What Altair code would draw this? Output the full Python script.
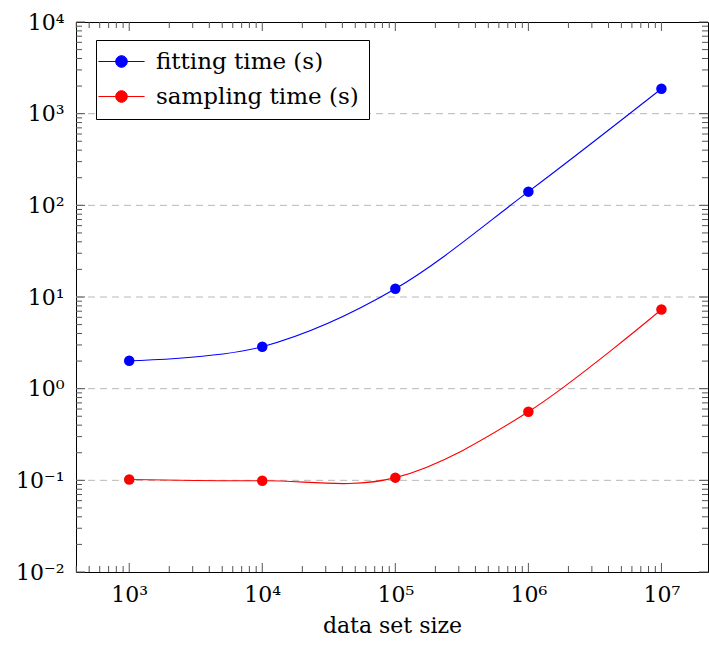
import altair as alt
import pandas as pd

# ---- data ----
sizes = [1e3, 1e4, 1e5, 1e6, 1e7]
fitting = [2.02, 2.87, 12.3, 141, 1870]
sampling = [0.102, 0.099, 0.107, 0.56, 7.3]
series_names = ["fitting time (s)", "sampling time (s)"]
series_colors = ["#0000ff", "#ff0000"]

x_decades = [1e3, 1e4, 1e5, 1e6, 1e7]
y_decades = [1e-2, 1e-1, 1e0, 1e1, 1e2, 1e3, 1e4]
grid_decades = [1e-1, 1e0, 1e1, 1e2, 1e3]

W, H = 632, 550
XMIN, XMAX = 10 ** 2.6, 10 ** 7.35
FONT = "DejaVu Serif"

x_minor = [m * 10 ** e for e in range(2, 7) for m in range(2, 10)
           if XMIN <= m * 10 ** e <= 1e7]
y_minor = [m * 10.0 ** e for e in range(-2, 4) for m in range(2, 10)]

rows = []
for s, f, p in zip(sizes, fitting, sampling):
    rows.append({"size": s, "time": f, "series": series_names[0]})
    rows.append({"size": s, "time": p, "series": series_names[1]})
df = pd.DataFrame(rows)

xscale = alt.Scale(type="log", domain=[XMIN, XMAX], nice=False)
yscale = alt.Scale(type="log", domain=[1e-2, 1e4], nice=False)
cscale = alt.Scale(domain=series_names, range=series_colors)

sup = "['⁰','¹','²','³','⁴','⁵','⁶','⁷','⁸','⁹'][round(abs(log(datum.value)/LN10))]"
label_expr = "'10' + (datum.value < 1 ? '⁻' : '') + " + sup

x_axis = alt.Axis(values=x_decades, labelExpr=label_expr, ticks=False, domain=False,
                  grid=False, labelFont=FONT, labelFontSize=22, labelColor="black",
                  labelPadding=12, title="data set size", titleFont=FONT,
                  titleFontSize=22, titleFontWeight="normal", titleColor="black",
                  titlePadding=10)
y_axis = alt.Axis(values=y_decades, labelExpr=label_expr, ticks=False, domain=False,
                  grid=False, labelFont=FONT, labelFontSize=22, labelColor="black",
                  labelPadding=12, title=None)

base = alt.Chart(df)

grid = alt.Chart(pd.DataFrame({"v": grid_decades})).mark_rule(
    color="#b8b8b8", strokeDash=[7, 5], strokeWidth=1
).encode(y=alt.Y("v:Q", scale=yscale, axis=y_axis), x=alt.value(0), x2=alt.value(W))

def xticks(vals, length):
    d = pd.DataFrame({"v": vals})
    bottom = alt.Chart(d).mark_rule(color="#555", strokeWidth=1).encode(
        x=alt.X("v:Q", scale=xscale, axis=x_axis), y=alt.value(H), y2=alt.value(H - length))
    top = alt.Chart(d).mark_rule(color="#555", strokeWidth=1).encode(
        x=alt.X("v:Q", scale=xscale), y=alt.value(0), y2=alt.value(length))
    return [bottom, top]

def yticks(vals, length):
    d = pd.DataFrame({"v": vals})
    left = alt.Chart(d).mark_rule(color="#555", strokeWidth=1).encode(
        y=alt.Y("v:Q", scale=yscale), x=alt.value(0), x2=alt.value(length))
    right = alt.Chart(d).mark_rule(color="#555", strokeWidth=1).encode(
        y=alt.Y("v:Q", scale=yscale), x=alt.value(W), x2=alt.value(W - length))
    return [left, right]

ticks = xticks(x_decades, 9) + xticks(x_minor, 6) + yticks(y_decades, 9) + yticks(y_minor, 6)

lines = base.mark_line(interpolate="cardinal", strokeWidth=1.1).encode(
    x=alt.X("size:Q", scale=xscale),
    y=alt.Y("time:Q", scale=yscale),
    color=alt.Color("series:N", scale=cscale),
)

legend = alt.Legend(
    title=None, orient="none", legendX=20, legendY=18,
    strokeColor="black", fillColor="white", padding=10, cornerRadius=0,
    symbolType="M-3.85,0L3.85,0M0.97,0A0.97,0.97,0,1,1,-0.97,0A0.97,0.97,0,1,1,0.97,0Z",
    symbolSize=144, symbolStrokeWidth=1, symbolOffset=4,
    labelFont=FONT, labelFontSize=23,
    labelColor="black", labelOffset=23, rowPadding=11, labelLimit=400,
)

points = base.mark_point(filled=True, size=110, opacity=1).encode(
    x=alt.X("size:Q", scale=xscale),
    y=alt.Y("time:Q", scale=yscale),
    color=alt.Color("series:N", scale=cscale, legend=legend),
)

chart = alt.layer(grid, *ticks, lines, points).properties(
    width=W, height=H,
    autosize=alt.AutoSizeParams(type="none"),
    padding={"left": 76, "top": 22, "right": 1, "bottom": 73},
).configure_view(stroke="black", strokeWidth=1)

chart.save("out.html", embed_options={"renderer": "svg", "actions": False})
